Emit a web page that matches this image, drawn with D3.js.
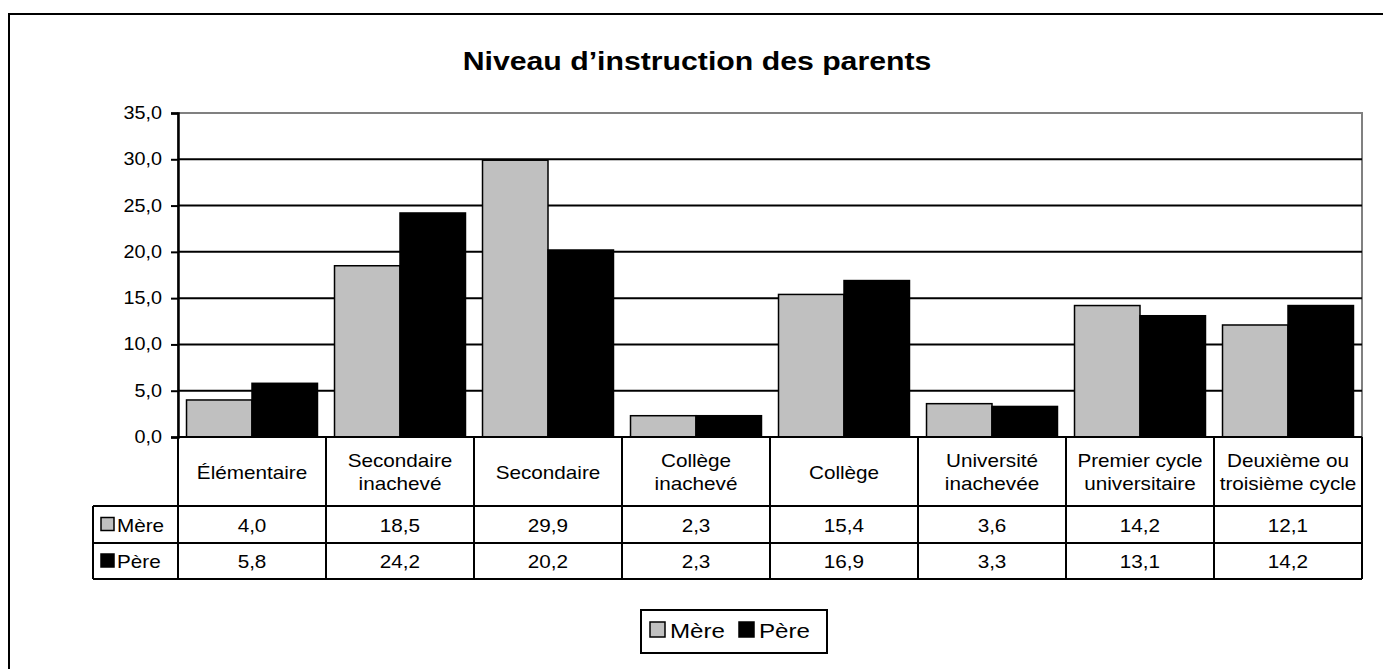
<!DOCTYPE html>
<html>
<head>
<meta charset="utf-8">
<script src="https://cdn.jsdelivr.net/npm/d3@7"></script>
<style>
  body { margin: 0; background: #fff; }
  svg { font-family: "Liberation Sans", Arial, sans-serif; }
</style>
</head>
<body>
<svg id="chart" width="1383" height="669"></svg>
<script>
// data
var categories = [
  ["Élémentaire"],
  ["Secondaire", "inachevé"],
  ["Secondaire"],
  ["Collège", "inachevé"],
  ["Collège"],
  ["Université", "inachevée"],
  ["Premier cycle", "universitaire"],
  ["Deuxième ou", "troisième cycle"]
];
var seriesNames = ["Mère", "Père"];
var mere = [4.0, 18.5, 29.9, 2.3, 15.4, 3.6, 14.2, 12.1];
var pere = [5.8, 24.2, 20.2, 2.3, 16.9, 3.3, 13.1, 14.2];
var yTicks = [0, 5, 10, 15, 20, 25, 30, 35];
var colors = ["#c0c0c0", "#000000"];

var svg = d3.select("#chart");
var pLeft = 178, pRight = 1362, pTop = 113, pBottom = 437;
var rowH = [69, 37, 36];
var SX = 1.15; // the source text is a bit wider than Arial
var fmt = function(v) { return d3.format(".1f")(v).replace(".", ","); };

// text drawn with a horizontal stretch
function txt(g, x, y, s, size, anchor, sx) {
  return g.append("text")
    .attr("transform", "translate(" + x + "," + y + ") scale(" + (sx || SX) + ",1)")
    .attr("font-size", size).attr("text-anchor", anchor || "start").text(s);
}

// outer frame
svg.append("rect").attr("x", 9).attr("y", 14).attr("width", 1420).attr("height", 700)
  .attr("fill", "none").attr("stroke", "#000").attr("stroke-width", 2);

txt(svg, 697, 70, "Niveau d’instruction des parents", 25, "middle", 1.21).attr("font-weight", "bold");

var x = d3.scaleBand().domain(d3.range(categories.length)).range([pLeft, pRight]);
var xs = d3.scaleBand().domain([0, 1]).range([0, x.bandwidth()]).paddingOuter(0.13);
var y = d3.scaleLinear().domain([0, 35]).range([pBottom, pTop]);

// plot border + gridlines
svg.append("rect").attr("x", pLeft).attr("y", pTop).attr("width", pRight - pLeft).attr("height", pBottom - pTop)
  .attr("fill", "none").attr("stroke", "#808080").attr("stroke-width", 2);
svg.append("g").selectAll("line").data(yTicks.filter(function(t) { return t > 0 && t < 35; }))
  .join("line").attr("x1", pLeft).attr("x2", pRight)
  .attr("y1", function(d) { return y(d); }).attr("y2", function(d) { return y(d); })
  .attr("stroke", "#000").attr("stroke-width", 2);

// bars
var series = [mere, pere];
series.forEach(function(vals, si) {
  svg.append("g").selectAll("rect").data(vals).join("rect")
    .attr("x", function(d, i) { return x(i) + xs(si); })
    .attr("y", function(d) { return y(d); })
    .attr("width", xs.bandwidth())
    .attr("height", function(d) { return pBottom - y(d); })
    .attr("fill", colors[si]).attr("stroke", "#000").attr("stroke-width", 1.5);
});

// y axis
var yAxis = svg.append("g").attr("transform", "translate(" + pLeft + ",0)")
  .call(d3.axisLeft(y).tickValues(yTicks).tickSize(7).tickFormat(""));
yAxis.select(".domain").attr("stroke-width", 2.5);
yAxis.selectAll(".tick line").attr("stroke-width", 2);
var yl = svg.append("g");
yTicks.forEach(function(t) { txt(yl, 162, y(t) + 6, fmt(t), 18, "end", 1.1); });

// data table
var tLeft = 93;
var r0 = pBottom, r1 = pBottom + rowH[0], r2 = r1 + rowH[1], r3 = r2 + rowH[2];
var tg = svg.append("g").attr("stroke", "#000").attr("stroke-width", 2);
tg.append("line").attr("x1", pLeft).attr("x2", pRight).attr("y1", r0).attr("y2", r0);
[r1, r2, r3].forEach(function(r) {
  tg.append("line").attr("x1", tLeft).attr("x2", pRight).attr("y1", r).attr("y2", r);
});
tg.append("line").attr("x1", tLeft).attr("x2", tLeft).attr("y1", r1).attr("y2", r3);
d3.range(categories.length + 1).forEach(function(i) {
  var xx = i < categories.length ? x(i) : pRight;
  tg.append("line").attr("x1", xx).attr("x2", xx).attr("y1", r0).attr("y2", r3);
});

var hdr = svg.append("g");
categories.forEach(function(lines, i) {
  var cx = x(i) + x.bandwidth() / 2;
  var cy = (r0 + r1) / 2;
  lines.forEach(function(l, li) {
    txt(hdr, cx, cy + 7 + (li - (lines.length - 1) / 2) * 23, l, 18, "middle");
  });
});

[[r1, r2], [r2, r3]].forEach(function(rr, si) {
  var cy = (rr[0] + rr[1]) / 2 + 7;
  var g = svg.append("g");
  series[si].forEach(function(v, i) { txt(g, x(i) + x.bandwidth() / 2, cy, fmt(v), 18, "middle"); });
  g.append("rect").attr("x", tLeft + 8).attr("y", cy - 14).attr("width", 13).attr("height", 13)
    .attr("fill", colors[si]).attr("stroke", "#000").attr("stroke-width", 1.5);
  txt(g, tLeft + 24, cy, seriesNames[si], 18);
});

// legend
var lg = svg.append("g");
lg.append("rect").attr("x", 641).attr("y", 610).attr("width", 186).attr("height", 43)
  .attr("fill", "#fff").attr("stroke", "#000").attr("stroke-width", 2);
var lx = [650, 739];
seriesNames.forEach(function(n, i) {
  lg.append("rect").attr("x", lx[i]).attr("y", 622).attr("width", 15).attr("height", 15)
    .attr("fill", colors[i]).attr("stroke", "#000").attr("stroke-width", 1.5);
  txt(lg, lx[i] + 20, 638, n, 21);
});
</script>
</body>
</html>
